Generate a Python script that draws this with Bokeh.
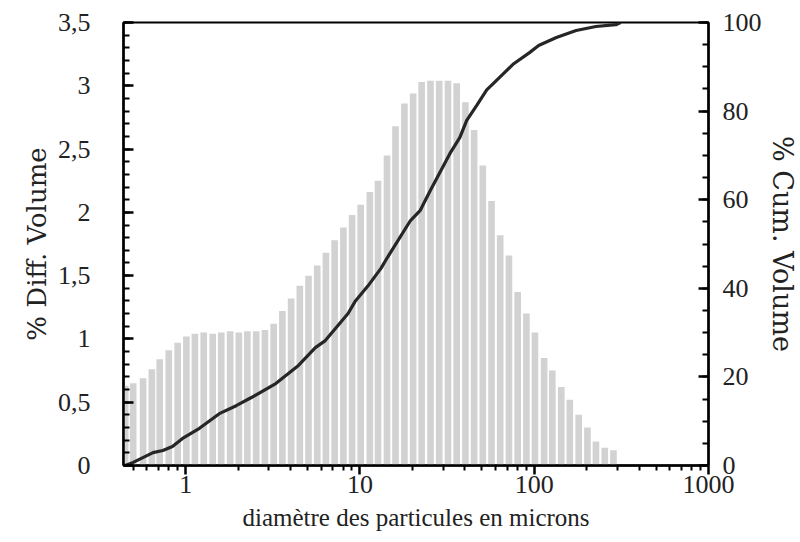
from bokeh.plotting import figure
from bokeh.models import Range1d, LinearAxis, FixedTicker, ColumnDataSource
from bokeh.embed import file_html
from bokeh.resources import INLINE

# Histogram (% differential volume) per size channel
diam = [0.45, 0.50, 0.57, 0.64, 0.71, 0.80, 0.90, 1.01, 1.13, 1.27,
        1.43, 1.60, 1.80, 2.02, 2.26, 2.54, 2.85, 3.20, 3.59, 4.03,
        4.52, 5.07, 5.69, 6.38, 7.16, 8.04, 9.02, 10.1, 11.4, 12.7,
        14.3, 16.0, 18.0, 20.2, 22.6, 25.4, 28.5, 32.0, 35.9, 40.3,
        45.2, 50.7, 56.9, 63.8, 71.6, 80.4, 90.2, 101, 114, 127,
        143, 160, 180, 202, 226, 254, 285]
diff_vol = [0.63, 0.65, 0.69, 0.76, 0.84, 0.91, 0.97, 1.02, 1.04, 1.05,
            1.04, 1.05, 1.06, 1.05, 1.06, 1.06, 1.07, 1.12, 1.22, 1.32,
            1.42, 1.50, 1.58, 1.68, 1.78, 1.88, 1.98, 2.06, 2.16, 2.25,
            2.45, 2.68, 2.86, 2.94, 3.03, 3.04, 3.04, 3.04, 3.02, 2.87,
            2.65, 2.37, 2.09, 1.82, 1.66, 1.37, 1.20, 1.05, 0.85, 0.75,
            0.62, 0.52, 0.40, 0.30, 0.19, 0.14, 0.12]

# Cumulative volume curve
cum_d = [0.45, 0.50, 0.65, 0.74, 0.84, 0.96, 1.20, 1.56, 1.95, 2.40,
         3.29, 4.44, 5.55, 6.33, 8.55, 9.37, 11.1, 13.2, 14.4, 19.5,
         22.2, 25.3, 32.8, 37.4, 41.0, 46.8, 53.4, 61.0, 76.3, 94.0,
         106, 134, 174, 226, 294, 313]
cum_v = [0, 0.7, 2.9, 3.4, 4.3, 6.1, 8.4, 11.7, 13.5, 15.4,
         18.5, 22.6, 26.6, 28.2, 34.3, 37.0, 40.5, 44.5, 47.0, 55.3,
         57.6, 62.0, 70.4, 74.0, 77.9, 81.3, 84.8, 87.0, 90.7, 93.2,
         94.8, 96.6, 98.2, 99.1, 99.5, 100]

left_ticks = [0, 0.5, 1, 1.5, 2, 2.5, 3, 3.5]
left_labels = ["0", "0,5", "1", "1,5", "2", "2,5", "3", "3,5"]
right_ticks = [0, 20, 40, 60, 80, 100]
x_ticks = [1, 10, 100, 1000]
x_labels = ["1", "10", "100", "1000"]

FONT = "Liberation Serif"
FONT_WIDE = "DejaVu Serif"

half = 10 ** 0.019
src = ColumnDataSource(dict(
    left=[d / half for d in diam],
    right=[d * half for d in diam],
    top=diff_vol,
    bottom=[0] * len(diam),
))

p = figure(width=800, height=542, x_axis_type="log",
           x_range=Range1d(0.44, 1000), y_range=Range1d(0, 3.5),
           output_backend="svg", toolbar_location=None,
           min_border_left=123, min_border_right=87,
           min_border_top=22, min_border_bottom=77)
p.extra_y_ranges = {"cum": Range1d(0, 100)}

p.quad(left="left", right="right", top="top", bottom="bottom", source=src,
       fill_color="#d2d2d2", line_color=None)
p.line(cum_d, cum_v, y_range_name="cum", line_color="#262626", line_width=3.2)

p.grid.visible = False
p.outline_line_color = "black"
p.outline_line_width = 2
p.background_fill_color = "white"
p.border_fill_color = "white"

# Left axis
ya = p.yaxis[0]
ya.ticker = FixedTicker(ticks=left_ticks,
                        minor_ticks=[i / 10 for i in range(0, 36)])
ya.major_label_overrides = {t: l for t, l in zip(left_ticks, left_labels)}
ya.axis_label = "% Diff. Volume"

# Bottom axis
xa = p.xaxis[0]
minor_x = [m * 10 ** e for e in range(-1, 3) for m in range(2, 10) if m * 10 ** e >= 0.44]
xa.ticker = FixedTicker(ticks=x_ticks, minor_ticks=minor_x)
xa.major_label_overrides = {t: l for t, l in zip(x_ticks, x_labels)}
xa.axis_label = "diamètre des particules en microns"

# Right axis
ra = LinearAxis(y_range_name="cum",
                ticker=FixedTicker(ticks=right_ticks, minor_ticks=list(range(0, 101, 5))),
                axis_label="% Cum. Volume")
p.add_layout(ra, "right")

for ax in (ya, ra):
    ax.major_tick_in = 10
    ax.major_tick_out = 0
    ax.minor_tick_in = 6
    ax.minor_tick_out = 0
xa.major_tick_in = 0
xa.major_tick_out = 9
xa.minor_tick_in = 0
xa.minor_tick_out = 5

for ax in (ya, ra, xa):
    ax.axis_line_width = 2.5
    ax.axis_line_color = "black"
    ax.major_tick_line_width = 2.5
    ax.minor_tick_line_width = 2
    ax.major_tick_line_color = "black"
    ax.minor_tick_line_color = "black"
    ax.major_label_text_font = FONT
    ax.major_label_text_font_size = "26px"
    ax.major_label_text_color = "#222222"
    ax.axis_label_text_font_style = "normal"
    ax.axis_label_text_color = "#222222"

xa.axis_label_text_font = FONT
xa.axis_label_text_font_size = "25px"
ya.axis_label_text_font = FONT_WIDE
ya.axis_label_text_font_size = "26px"
ra.axis_label_text_font = FONT_WIDE
ra.axis_label_text_font_size = "27px"

ya.major_label_standoff = 33
ya.axis_label_standoff = 3
ra.major_label_standoff = 14
ra.axis_label_standoff = 2
xa.major_label_standoff = 1
xa.axis_label_standoff = 8

open("out.html", "w").write(file_html(p, INLINE))
